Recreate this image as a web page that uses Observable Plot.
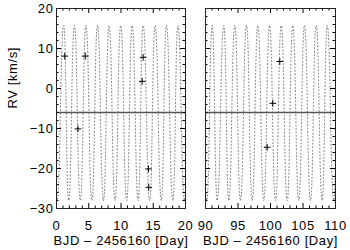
<!DOCTYPE html>
<html>
<head>
<meta charset="utf-8">
<script src="https://cdn.jsdelivr.net/npm/d3@7"></script>
<script src="https://cdn.jsdelivr.net/npm/@observablehq/plot@0.6"></script>
<style>
  html, body { margin: 0; padding: 0; background: #fff; }
  #chart { display: flex; width: 350px; height: 250px; }
</style>
</head>
<body>
<div id="chart"></div>
<script>
// ---- data ----
const leftPeakDays   = [-0.78, 1.12, 2.77, 4.57, 6.35, 8.15, 9.95, 11.74, 13.43, 15.28, 17.03, 18.82, 20.65];
const leftTroughDays = [0.10, 1.89, 3.69, 5.49, 7.28, 9.08, 10.88, 12.66, 14.46, 16.26, 18.05, 19.85];
const rightPeakDays   = [89.3, 91.03, 92.82, 94.51, 96.31, 98.05, 99.85, 101.65, 103.43, 105.23, 107.03, 108.72, 110.55];
const rightTroughDays = [90.2, 91.8, 93.58, 95.38, 97.18, 98.97, 100.77, 102.57, 104.35, 106.15, 107.95, 109.74];
const peakRV   = [15.75];
const troughRV = [-28];
const meanRV   = [-6];

const leftObsDay  = [1.28, 4.46, 3.33, 13.43, 13.28, 14.26, 14.30];
const leftObsRV   = [8.1, 8.1, -10.1, 7.8, 1.8, -20.1, -24.7];
const rightObsDay = [99.49, 100.35, 101.43];
const rightObsRV  = [-14.7, -3.7, 6.75];

const leftXDomain  = [0, 20];
const rightXDomain = [90, 110];
const yDomain = [-30, 20];
const leftXMajor  = [0, 5, 10, 15, 20];
const rightXMajor = [90, 95, 100, 105, 110];
const leftXMinor  = [1, 2, 3, 4, 6, 7, 8, 9, 11, 12, 13, 14, 16, 17, 18, 19];
const rightXMinor = [91, 92, 93, 94, 96, 97, 98, 99, 101, 102, 103, 104, 106, 107, 108, 109];
const yMajor = [-30, -20, -10, 0, 10, 20];
const yMinor = [-28, -26, -24, -22, -18, -16, -14, -12, -8, -6, -4, -2, 2, 4, 6, 8, 12, 14, 16, 18];
const xTitle = "BJD \u2013 2456160 [Day]";
const yTitle = "RV [km/s]";

// ---- panel builder ----
const H = 250, MT = 8, MB = 42, FH = H - MT - MB;

function curveRows(peaks, troughs) {
  const rows = peaks.map(d => ({day: d, rv: peakRV[0]}))
    .concat(troughs.map(d => ({day: d, rv: troughRV[0]})));
  rows.sort((a, b) => a.day - b.day);
  return rows;
}

function panel({width, marginLeft, marginRight, xDomain, xMajor, xMinor, peaks, troughs, obsDay, obsRV, showY}) {
  const FW = width - marginLeft - marginRight;
  const obs = obsDay.map((d, i) => ({day: d, rv: obsRV[i]}));
  const marks = [
    Plot.line(curveRows(peaks, troughs), {
      x: "day", y: "rv", curve: "bump-x", clip: true,
      stroke: "#555", strokeWidth: 0.8, strokeDasharray: "1 2.4"
    }),
    Plot.ruleY(meanRV, {stroke: "#555", strokeWidth: 1.5}),
    Plot.dot(obs, {x: "day", y: "rv", symbol: "plus", r: 2.3, stroke: "black", strokeWidth: 1}),
    // inward ticks
    Plot.tickX(xMajor, {x: d => d, insetTop: FH - 5, stroke: "black"}),
    Plot.tickX(xMajor, {x: d => d, insetBottom: FH - 5, stroke: "black"}),
    Plot.tickX(xMinor, {x: d => d, insetTop: FH - 2.5, stroke: "black"}),
    Plot.tickX(xMinor, {x: d => d, insetBottom: FH - 2.5, stroke: "black"}),
    Plot.tickY(yMajor, {y: d => d, insetRight: FW - 5, stroke: "black"}),
    Plot.tickY(yMajor, {y: d => d, insetLeft: FW - 5, stroke: "black"}),
    Plot.tickY(yMinor, {y: d => d, insetRight: FW - 2.5, stroke: "black"}),
    Plot.tickY(yMinor, {y: d => d, insetLeft: FW - 2.5, stroke: "black"}),
    Plot.frame({stroke: "#222", strokeWidth: 1}),
    Plot.axisX({ticks: xMajor, tickSize: 0, tickPadding: 12, label: null, tickFormat: d => String(d)}),
    Plot.text([xTitle], {frameAnchor: "bottom", dy: 36, fill: "black"})
  ];
  if (showY) {
    marks.push(Plot.axisY({ticks: yMajor, tickSize: 0, tickPadding: 3, label: null}));
    marks.push(Plot.text([yTitle], {frameAnchor: "left", dx: -44, rotate: -90, fill: "black"}));
  }
  return Plot.plot({
    width, height: H,
    marginTop: MT, marginBottom: MB, marginLeft, marginRight,
    x: {domain: xDomain},
    y: {domain: yDomain, axis: showY ? undefined : null},
    style: {fontFamily: "'Liberation Sans', Arial, sans-serif", fontSize: "13px", letterSpacing: "0.6px", color: "black", background: "white", overflow: "visible"},
    marks
  });
}

const chart = document.getElementById("chart");
chart.append(panel({
  width: 195, marginLeft: 56, marginRight: 10,
  xDomain: leftXDomain, xMajor: leftXMajor, xMinor: leftXMinor,
  peaks: leftPeakDays, troughs: leftTroughDays,
  obsDay: leftObsDay, obsRV: leftObsRV, showY: true
}));
chart.append(panel({
  width: 155, marginLeft: 10, marginRight: 15,
  xDomain: rightXDomain, xMajor: rightXMajor, xMinor: rightXMinor,
  peaks: rightPeakDays, troughs: rightTroughDays,
  obsDay: rightObsDay, obsRV: rightObsRV, showY: false
}));
</script>
</body>
</html>
